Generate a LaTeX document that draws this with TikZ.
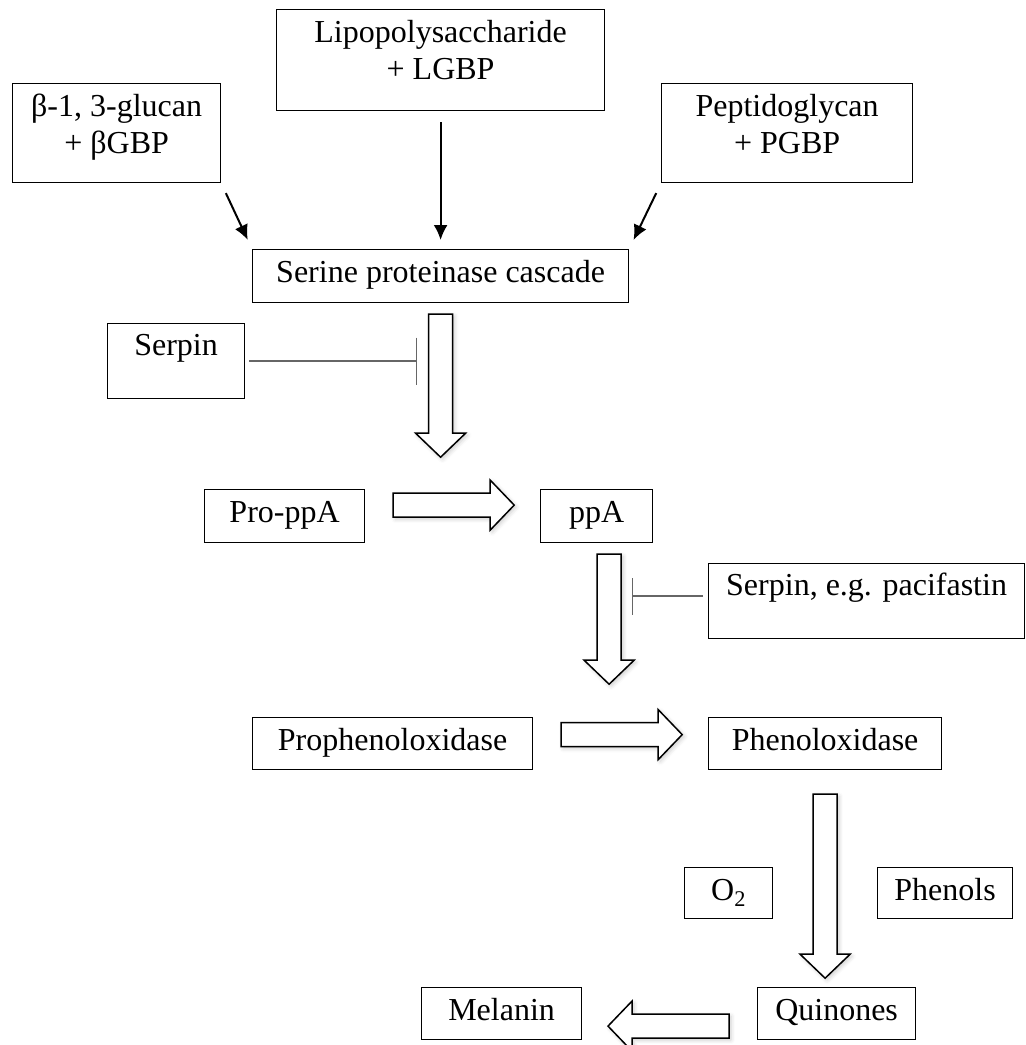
\documentclass[tikz,border=0pt]{standalone}
\usepackage{fontspec}
\setmainfont{Liberation Serif}
\usetikzlibrary{arrows.meta, calc, shadows.blur}

\newcommand{\twolines}[2]{\begin{tabular}[t]{@{}c@{}}#1\\#2\end{tabular}}

\tikzset{
  box/.style={draw, line width=1.2pt, anchor=north west,
    inner xsep=0pt, inner ysep=0pt, text height=33pt},
  feed/.style={line width=2pt, -{Latex[length=15pt, width=14pt]}},
  inhib/.style={line width=1.2pt, black!60, -{Bar[width=#1]}},
  hollow/.style={draw, fill=white, line width=1.5pt, line join=miter,
    blur shadow={shadow xshift=2pt, shadow yshift=-2pt,
      shadow blur radius=4pt, shadow opacity=20}},
  pics/fatarrow/.style={code={
    \draw[hollow] (0,-12) -- (#1-24,-12) -- (#1-24,-25) -- (#1,0)
      -- (#1-24,25) -- (#1-24,12) -- (0,12) -- cycle;
  }}
}

\begin{document}
\begin{tikzpicture}[x=1pt, y=-1pt, font=\fontsize{32}{37}\selectfont]

  \useasboundingbox (0,0) rectangle (1026,1045);

  % receptors
  \node[box, minimum width=208pt, text depth=66pt] (glucan) at (12,83)
    {\twolines{β-1, 3-glucan}{+ βGBP}};
  \node[box, minimum width=328pt, text depth=68pt] (lps) at (276,9)
    {\twolines{Lipopolysaccharide}{+ LGBP}};
  \node[box, minimum width=251pt, text depth=66pt] (pgn) at (661,83)
    {\twolines{Peptidoglycan}{+ PGBP}};

  \node[box, minimum width=376pt, text depth=20pt] (serine) at (252,249)
    {Serine proteinase cascade};

  \draw[feed, shorten <=11pt, shorten >=10pt] (glucan.south east) -- (serine.north west);
  \draw[feed, shorten <=11pt, shorten >=9pt] (lps) -- (serine);
  \draw[feed, shorten <=11pt, shorten >=10pt] (pgn.south west) -- (serine.north east);

  % first inhibitor
  \node[box, minimum width=137pt, text height=32pt, text depth=43pt] (serpin1) at (107,323)
    {Serpin};
  \pic[rotate=-90] at ($(serine.south)+(0,11)$) {fatarrow=143};
  \coordinate (stop1) at (417,361);
  \draw[inhib=47pt, shorten <=4pt] (serpin1.east |- stop1) -- (stop1);

  \node[box, minimum width=160pt, text depth=20pt] (proppa) at (204,489) {Pro-ppA};
  \node[box, minimum width=112pt, text depth=20pt] (ppa) at (540,489) {ppA};
  \pic at ($(proppa.east)+(28,-11)$) {fatarrow=121};

  % second inhibitor
  \node[box, minimum width=316pt, text height=32pt, text depth=43pt] (serpin2) at (708,563)
    {Serpin, e.g. pacifastin};
  \pic[rotate=-90] at ($(ppa.south)+(12.5,11)$) {fatarrow=130};
  \coordinate (stop2) at (632,596);
  \draw[inhib=37pt, shorten <=5pt] (serpin2.west |- stop2) -- (stop2);

  \node[box, minimum width=280pt, text depth=19pt] (propo) at (252,717) {Prophenoloxidase};
  \node[box, minimum width=233pt, text depth=19pt] (po) at (708,717) {Phenoloxidase};
  \pic at ($(propo.east)+(28,-9)$) {fatarrow=121};

  % melanisation
  \pic[rotate=-90] at ($(po.south)+(0,24)$) {fatarrow=184};
  \node[box, minimum width=88pt, text depth=18pt] (o2) at (684,867) {O\textsubscript{2}};
  \node[box, minimum width=135pt, text depth=18pt] (phenols) at (877,867) {Phenols};

  \node[box, minimum width=158pt, text depth=19pt] (quinones) at (757,987) {Quinones};
  \node[box, minimum width=160pt, text depth=19pt] (melanin) at (421,987) {Melanin};
  \pic[rotate=180] at ($(quinones.west)+(-28,12.5)$) {fatarrow=121};

\end{tikzpicture}
\end{document}
